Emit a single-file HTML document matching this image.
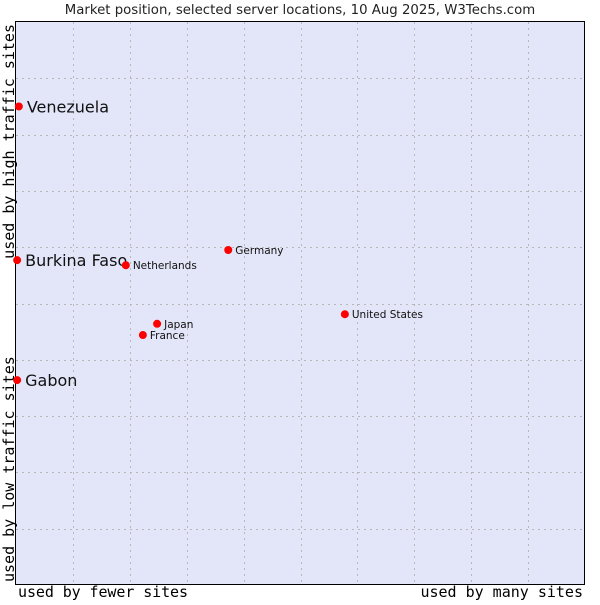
<!DOCTYPE html>
<html><head><meta charset="utf-8"><style>
body{margin:0;background:#fff;width:600px;height:600px;overflow:hidden}
svg text{font-family:"DejaVu Sans","Liberation Sans",sans-serif}
.mono{font-family:"DejaVu Sans Mono","Liberation Mono",monospace}
</style></head><body>
<svg id="chart" width="600" height="600" xmlns="http://www.w3.org/2000/svg">
<text x="300" y="14" font-size="13.3" text-anchor="middle" fill="#222">Market position, selected server locations, 10 Aug 2025, W3Techs.com</text>
<rect x="15.5" y="21.5" width="569" height="563" fill="#e3e5f8" stroke="#000"/>
<g id="grid"></g>
<g id="points"></g>
<text class="mono" x="18" y="597" font-size="15" textLength="170" fill="#000">used by fewer sites</text>
<text class="mono" x="583" y="597" font-size="15" text-anchor="end" fill="#000">used by many sites</text>
<text class="mono" transform="translate(14,24) rotate(-90)" font-size="15" text-anchor="end" fill="#000">used by high traffic sites</text>
<text class="mono" transform="translate(14,582) rotate(-90)" font-size="15" fill="#000">used by low traffic sites</text>
</svg>
<script>
const countries=["Venezuela","Burkina Faso","Gabon","Netherlands","Germany","United States","Japan","France"];
const xValues=[0.5,0.2,0.2,19.3,37.3,57.8,24.8,22.3];
const yValues=[85,57.7,36.4,56.8,59.5,48.1,46.4,44.4];
const bigLabel=[true,true,true,false,false,false,false,false];
const NS="http://www.w3.org/2000/svg";
const L=16,R=585,T=22,B=585;
const sx=v=>L+v/100*(R-L);
const sy=v=>B-v/100*(B-T);
const grid=document.getElementById('grid');
for(let i=1;i<10;i++){
  const gx=document.createElementNS(NS,'line');
  
  
  const x=Math.round(sx(i*10))+0.5;
  gx.setAttribute('x1',x);gx.setAttribute('x2',x);gx.setAttribute('y1',T);gx.setAttribute('y2',B);
  gx.setAttribute('stroke','#b8b8b8');gx.setAttribute('stroke-dasharray','2,4');
  grid.appendChild(gx);
  const gy=document.createElementNS(NS,'line');
  
  
  const y=Math.round(sy(i*10))+0.5;
  gy.setAttribute('y1',y);gy.setAttribute('y2',y);gy.setAttribute('x1',L);gy.setAttribute('x2',R);
  gy.setAttribute('stroke','#b8b8b8');gy.setAttribute('stroke-dasharray','2,4');
  grid.appendChild(gy);
}
const pts=document.getElementById('points');
countries.forEach((c,i)=>{
  const x=sx(xValues[i]),y=sy(yValues[i]);
  const p=document.createElementNS(NS,'circle');
  
  
  p.setAttribute('cx',x);p.setAttribute('cy',y);p.setAttribute('r',4);p.setAttribute('fill','#f00');
  pts.appendChild(p);
  const t=document.createElementNS(NS,'text');
  
  
  t.setAttribute('x',x+(bigLabel[i]?8:7));
  t.setAttribute('y',y+(bigLabel[i]?6:4));
  t.setAttribute('font-size',bigLabel[i]?16:10.5);
  t.setAttribute('fill','#111');
  t.textContent=c;
  pts.appendChild(t);
});
</script>
</body></html>
